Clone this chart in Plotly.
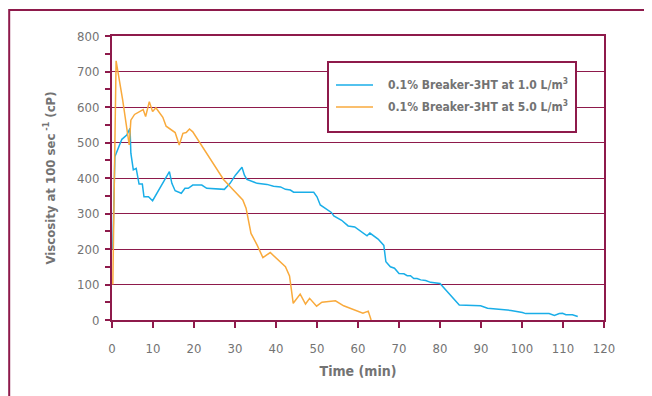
import plotly.graph_objects as go

# ---- data ----
time_1 = [0.2, 0.7, 2.4, 3.6, 4.4, 4.6, 5.2, 5.9, 6.6, 7.4, 7.8, 8.9, 9.9, 14.0, 14.6,
          15.4, 16.9, 17.8, 18.6, 19.7, 21.9, 23.1, 27.4, 28.8, 30.1, 31.7, 32.3, 32.9, 35.4, 37.8,
          39.4, 41.1, 42.3, 43.5, 44.3, 49.2, 50.0, 50.8, 53.5, 54.1, 56.0, 57.6, 59.2, 62.2, 62.9,
          64.9, 66.3, 66.8, 67.9, 68.9, 70.0, 71.2, 72.0, 72.8, 73.6, 74.4, 75.3, 76.5, 77.7, 80.0,
          84.7, 89.9, 91.6, 97.3, 100.1, 100.9, 106.6, 107.9, 109.1, 109.9, 110.7, 112.3, 113.6]
visc_1 = [200, 460, 509, 521, 540, 470, 423, 427, 383, 383, 347, 347, 336, 418, 385,
          364, 357, 371, 371, 380, 380, 371, 368, 385, 408, 430, 408, 396, 385, 382,
          377, 375, 368, 366, 360, 360, 347, 324, 303, 293, 281, 265, 262, 237, 245,
          228, 210, 164, 150, 146, 131, 130, 125, 125, 117, 117, 113, 111, 106, 103,
          42, 40, 33, 27, 21, 18, 18, 13, 18, 19, 15, 15, 10]

time_5 = [0.2, 1.0, 2.6, 3.6, 4.2, 4.6, 5.5, 7.6, 8.2, 9.1, 9.9, 10.7, 12.4, 13.2, 15.4,
          16.4, 17.3, 18.1, 18.9, 19.7, 21.5, 24.8, 27.2, 29.6, 31.9, 32.7, 33.9, 35.4, 36.8, 38.6,
          42.3, 43.3, 44.2, 45.9, 47.2, 48.2, 49.9, 51.2, 54.5, 56.5, 60.6, 61.2, 62.5, 63.2]
visc_5 = [100, 730, 620, 535, 493, 563, 579, 593, 573, 615, 587, 598, 571, 546, 528,
          493, 526, 528, 538, 530, 498, 441, 396, 366, 338, 315, 244, 211, 176, 190,
          150, 124, 47, 73, 45, 61, 39, 50, 54, 40, 22, 19, 25, 0]

series_names = ["0.1% Breaker-3HT at 1.0 L/m<sup>3</sup>",
                "0.1% Breaker-3HT at 5.0 L/m<sup>3</sup>"]
x_ticks = list(range(0, 121, 10))
y_ticks = list(range(0, 801, 100))

# ---- styling ----
MAROON = "#8E1A4B"
BLUE = "#1AAEE8"
ORANGE = "#F9AA3C"
GRAY = "#737373"
FONT = "Liberation Sans Narrow, DejaVu Sans Condensed, Arial Narrow, sans-serif"

OFF = 8  # page body margin in the browser
W, H = 652 - OFF, 396 - OFF
L, T = 112 - OFF, 36 - OFF
pw, ph = 492, 284
R, B = W - L - pw, H - T - ph


def px_x(p):  # page pixel -> paper x
    return (p - OFF - L) / pw


def px_y(p):  # page pixel -> paper y
    return (T + ph - (p - OFF)) / ph


fig = go.Figure()
fig.add_trace(go.Scatter(x=time_1, y=visc_1, mode="lines", name=series_names[0],
                         line=dict(color=BLUE, width=1.5), showlegend=False))
fig.add_trace(go.Scatter(x=time_5, y=visc_5, mode="lines", name=series_names[1],
                         line=dict(color=ORANGE, width=1.5), showlegend=False))

shapes = [
    # outer frame
    dict(type="rect", xref="paper", yref="paper", x0=px_x(9.2), x1=px_x(700),
         y0=px_y(440), y1=px_y(10), line=dict(color=MAROON, width=2), layer="below"),
    # legend box
    dict(type="rect", xref="paper", yref="paper", x0=px_x(328), x1=px_x(576),
         y0=px_y(132), y1=px_y(62), line=dict(color=MAROON, width=2),
         fillcolor="white", layer="above"),
    dict(type="line", xref="paper", yref="paper", x0=px_x(336), x1=px_x(373),
         y0=px_y(85), y1=px_y(85), line=dict(color=BLUE, width=1.5)),
    dict(type="line", xref="paper", yref="paper", x0=px_x(336), x1=px_x(373),
         y0=px_y(107), y1=px_y(107), line=dict(color=ORANGE, width=1.5)),
]

annotations = [
    dict(xref="paper", yref="paper", x=px_x(386), y=px_y(y), text="<b>%s</b>" % name,
         showarrow=False, xanchor="left", yanchor="middle",
         font=dict(family=FONT, size=12, color=GRAY))
    for name, y in zip(series_names, [84, 106])
]

fig.update_layout(
    width=W, height=H,
    margin=dict(l=L, r=R, t=T, b=B, pad=0),
    paper_bgcolor="white", plot_bgcolor="white",
    font=dict(family=FONT, size=13, color=GRAY),
    shapes=shapes, annotations=annotations,
    showlegend=False,
)

fig.update_xaxes(
    range=[0, 120], tickvals=x_ticks, ticktext=[str(v) for v in x_ticks],
    showgrid=False, zeroline=False,
    showline=True, linecolor=MAROON, linewidth=2, mirror=True,
    ticks="outside", ticklen=6, tickcolor=MAROON, tickwidth=1.5,
    ticklabelstandoff=9,
    tickfont=dict(family=FONT, size=13, color=GRAY),
    title=dict(text="<b>Time (min)</b>", font=dict(family=FONT, size=14, color=GRAY), standoff=12),
)
fig.update_yaxes(
    range=[0, 800], tickvals=y_ticks, ticktext=[str(v) for v in y_ticks],
    showgrid=True, gridcolor=MAROON, gridwidth=1.2, zeroline=False,
    showline=True, linecolor=MAROON, linewidth=2, mirror=True,
    ticks="outside", ticklen=5, tickcolor=MAROON, tickwidth=1.5,
    minor=dict(dtick=50, ticks="outside", ticklen=5, tickcolor=MAROON, tickwidth=1.5, showgrid=False),
    ticklabelstandoff=3,
    tickfont=dict(family=FONT, size=13, color=GRAY),
    title=dict(text="<b>Viscosity at 100 sec<sup> -1</sup> (cP)</b>",
               font=dict(family=FONT, size=13, color=GRAY), standoff=19),
)

fig.write_html("out.html")
